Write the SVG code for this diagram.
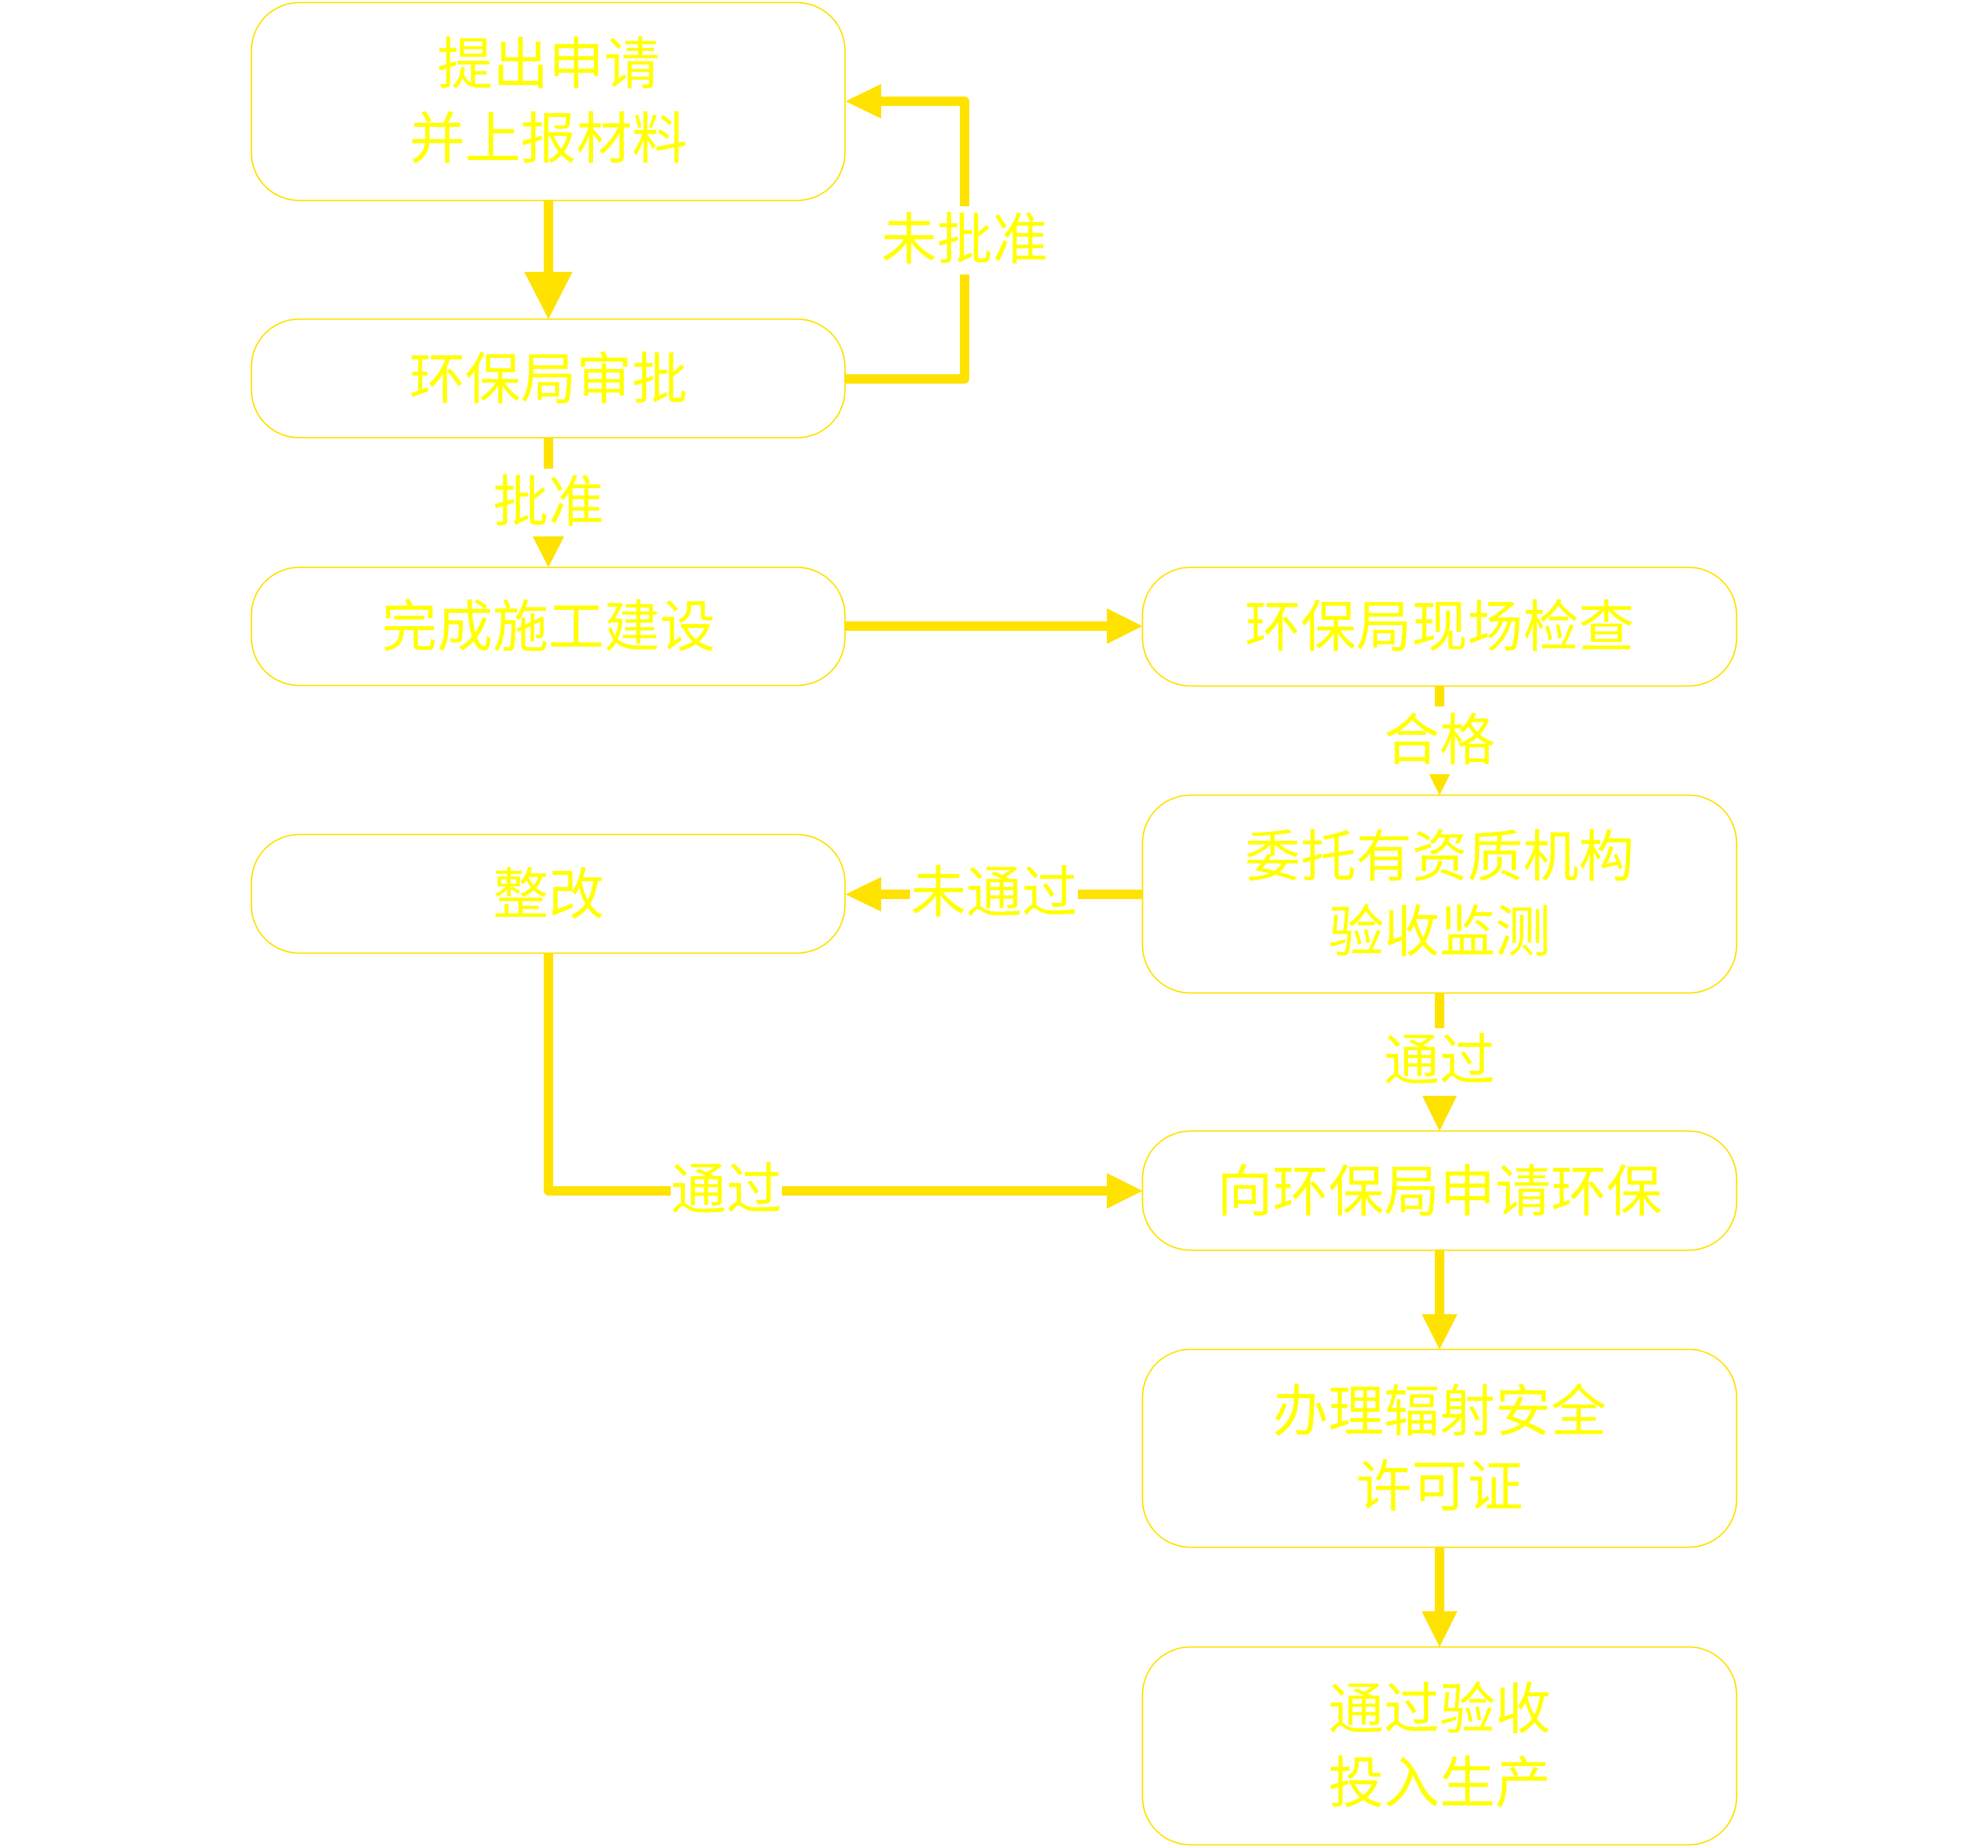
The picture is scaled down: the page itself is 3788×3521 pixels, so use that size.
<svg xmlns="http://www.w3.org/2000/svg" width="3788" height="3521" viewBox="0 0 3788 3521">
<style>
.box{fill:#FFFFFF;stroke:#FFE200;stroke-width:2.7}
.t{font-family:"Noto Sans CJK SC","Noto Sans",sans-serif;font-size:106px;fill:#FFFF00;text-anchor:middle}
.ln{fill:none;stroke:#FFE200;stroke-width:18;stroke-linejoin:round;stroke-linecap:butt}
.head{fill:#FFE200;stroke:none}
</style>
<defs>
<marker id="dot" markerUnits="userSpaceOnUse" markerWidth="20" markerHeight="20" refX="10" refY="10" viewBox="0 0 20 20">
<circle cx="10" cy="10" r="9" fill="#FFE200"/>
</marker>
</defs>
<rect width="3788" height="3521" fill="#FFFFFF"/>
<g id="connectors">
<path class="ln" marker-start="url(#dot)" d="M1045,386 V518"/>
<polygon class="head" points="999,518 1091,518 1045,608"/>
<path class="ln" marker-start="url(#dot)" d="M1610,722 H1838 V523"/>
<path class="ln" d="M1838,393 V193 H1679"/>
<polygon class="head" points="1679,160 1679,226 1611,193"/>
<path class="ln" marker-start="url(#dot)" d="M1045,838 V893"/>
<polygon class="head" points="1015,1022 1075,1022 1045,1081"/>
<path class="ln" marker-start="url(#dot)" d="M1610,1193 H2109"/>
<polygon class="head" points="2109,1159 2109,1227 2177,1193"/>
<path class="ln" marker-start="url(#dot)" d="M2743,1310 V1346"/>
<polygon class="head" points="2723,1475 2763,1475 2743,1515"/>
<path class="ln" marker-start="url(#dot)" d="M2179,1704 H2054"/>
<path class="ln" d="M1734,1704 H1679"/>
<polygon class="head" points="1679,1671 1679,1737 1611,1704"/>
<path class="ln" marker-start="url(#dot)" d="M1045,1819 V2269 H1278"/>
<path class="ln" d="M1490,2269 H2109"/>
<polygon class="head" points="2109,2235 2109,2303 2177,2269"/>
<path class="ln" marker-start="url(#dot)" d="M2743,1895 V1959"/>
<polygon class="head" points="2710,2088 2776,2088 2743,2155"/>
<path class="ln" marker-start="url(#dot)" d="M2743,2385 V2504"/>
<polygon class="head" points="2709,2504 2777,2504 2743,2571"/>
<path class="ln" marker-start="url(#dot)" d="M2743,2951 V3070"/>
<polygon class="head" points="2709,3070 2777,3070 2743,3138"/>
<text class="t" x="1838" y="493">未批准</text>
<text class="t" x="1045" y="993">批准</text>
<text class="t" x="2743" y="1447">合格</text>
<text class="t" x="1894" y="1737">未通过</text>
<text class="t" x="1384" y="2303">通过</text>
<text class="t" x="2743" y="2057">通过</text>
</g>
<g id="n1"><rect class="box" x="479" y="5" width="1131" height="377" rx="91"/><text class="t" x="1045" y="159">提出申请</text><text class="t" x="1045" y="301">并上报材料</text></g>
<g id="n2"><rect class="box" x="479" y="608" width="1131" height="226" rx="91"/><text class="t" x="1045" y="759">环保局审批</text></g>
<g id="n3"><rect class="box" x="479" y="1081" width="1131" height="225" rx="91"/><text class="t" x="1045" y="1231">完成施工建设</text></g>
<g id="n4"><rect class="box" x="2177" y="1081" width="1132" height="226" rx="91"/><text class="t" x="2743" y="1231">环保局现场检查</text></g>
<g id="n5"><rect class="box" x="2177" y="1515" width="1132" height="377" rx="91"/><text class="t" x="2743" y="1669">委托有资质机构</text><text class="t" x="2743" y="1812">验收监测</text></g>
<g id="n6"><rect class="box" x="479" y="1590" width="1131" height="226" rx="91"/><text class="t" x="1045" y="1741">整改</text></g>
<g id="n7"><rect class="box" x="2177" y="2155" width="1132" height="227" rx="91"/><text class="t" x="2743" y="2307">向环保局申请环保</text></g>
<g id="n8"><rect class="box" x="2177" y="2571" width="1132" height="377" rx="91"/><text class="t" x="2743" y="2726">办理辐射安全</text><text class="t" x="2743" y="2869">许可证</text></g>
<g id="n9"><rect class="box" x="2177" y="3138" width="1132" height="377" rx="91"/><text class="t" x="2743" y="3293">通过验收</text><text class="t" x="2743" y="3434">投入生产</text></g>
</svg>
